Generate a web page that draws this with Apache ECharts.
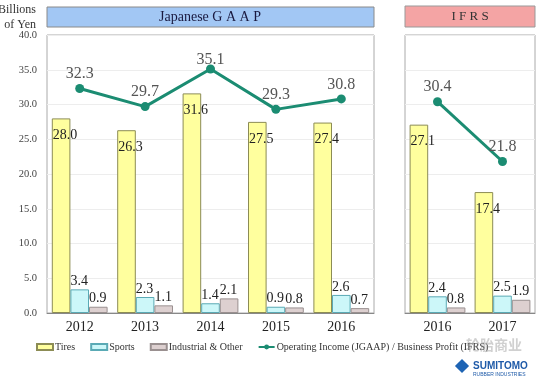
<!DOCTYPE html>
<html><head><meta charset="utf-8">
<script src="https://cdn.jsdelivr.net/npm/echarts@6/dist/echarts.min.js"></script>
<style>html,body{margin:0;padding:0;background:#fff}#c{width:544px;height:378px}</style>
</head><body><div id="c"></div>
<script>
const jgaapYears = ['2012','2013','2014','2015','2016'];
const jgaapTires = [28.0, 26.3, 31.6, 27.5, 27.4];
const jgaapSports = [3.4, 2.3, 1.4, 0.9, 2.6];
const jgaapIndustrial = [0.9, 1.1, 2.1, 0.8, 0.7];
const jgaapIncome = [32.3, 29.7, 35.1, 29.3, 30.8];
const ifrsYears = ['2016','2017'];
const ifrsTires = [27.1, 17.4];
const ifrsSports = [2.4, 2.5];
const ifrsIndustrial = [0.8, 1.9];
const ifrsProfit = [30.4, 21.8];
const lineName = 'Operating Income (JGAAP) / Business Profit (IFRS)';

const serif = '"Liberation Serif", "DejaVu Serif", serif';
const fmt = p => Number(p.value).toFixed(1);
const colors = {
  tires: {fill:'#ffff9e', border:'#8c8c55'},
  sports: {fill:'#ccf7f9', border:'#5aaab5'},
  ind: {fill:'#ddd0d0', border:'#9a9090'}
};
function bar(name, data, c, idx, tall) {
  return {
    type:'bar', name, data, xAxisIndex: idx, yAxisIndex: idx,
    barWidth: 18.6, barGap: '0%',
    itemStyle:{color:c.fill, borderColor:c.border, borderWidth:1},
    label:{show:true, formatter:fmt, fontFamily:serif, fontSize:14, color:'#222',
      align:'left', verticalAlign: tall ? 'top' : 'bottom',
      position: tall ? [1, 10] : [0, -1]},
    emphasis:{disabled:true}
  };
}
function line(data, idx) {
  // the highest point's label sits closer to its marker (just under the header)
  const maxV = Math.max(...data);
  const items = data.map(v => (idx === 0 && v === maxV) ? {value:v, label:{distance:-3}} : v);
  return {
    type:'line', name: lineName, data: items, xAxisIndex: idx, yAxisIndex: idx,
    symbol:'circle', symbolSize:9, z:5,
    lineStyle:{color:'#1b8c72', width:3}, itemStyle:{color:'#1b8c72'},
    label:{show:true, position:'top', distance:2, formatter:fmt, fontFamily:serif, fontSize:16, color:'#555'},
    emphasis:{disabled:true}
  };
}
const yAx = (idx, showLabel) => ({
  type:'value', gridIndex: idx, min:0, max:40, interval:5,
  axisLine:{show:false}, axisTick:{show:false},
  axisLabel:{show:showLabel, formatter:v=>v.toFixed(1), fontFamily:serif, fontSize:10.5, color:'#444', margin:10},
  splitLine:{lineStyle:{color:'#ededed'}}
});
const xAx = (idx, data) => ({
  type:'category', gridIndex: idx, data,
  axisLine:{lineStyle:{color:'#888'}}, axisTick:{show:false},
  axisLabel:{fontFamily:serif, fontSize:14, color:'#222', margin:7}
});
const chart = echarts.init(document.getElementById('c'));
chart.setOption({
  animation:false,
  grid:[
    {left:47, right:170, top:35, bottom:65, show:true, borderColor:'#aaa', borderWidth:1},
    {left:405, right:9, top:35, bottom:65, show:true, borderColor:'#aaa', borderWidth:1}
  ],
  xAxis:[xAx(0, jgaapYears), xAx(1, ifrsYears)],
  yAxis:[yAx(0, true), yAx(1, false)],
  legend:{
    left:36, top:342, width:520, itemWidth:16, itemHeight:6, itemGap:15, padding:0,
    textStyle:{fontFamily:serif, fontSize:10, color:'#333', padding:[0,0,0,-3]},
    data:[
      {name:'Tires', icon:'rect'},
      {name:'Sports', icon:'rect'},
      {name:'Industrial & Other', icon:'rect'},
      {name:lineName}
    ]
  },
  graphic:[
    {type:'text', x:36, y:2, style:{text:'Billions\nof Yen', font:'12px '+serif, fill:'#333', align:'right', lineHeight:15}},
    {type:'rect', shape:{x:47, y:7, width:327, height:20}, style:{fill:'#a2c7f4', stroke:'#8a8a8a', lineWidth:1}},
    {type:'text', x:210, y:17, style:{text:'Japanese G A A P', font:'14px '+serif, fill:'#1a1a40', align:'center', verticalAlign:'middle'}},
    {type:'rect', shape:{x:405, y:6, width:130, height:21}, style:{fill:'#f4a4a4', stroke:'#999', lineWidth:1}},
    {type:'text', x:470, y:16.5, style:{text:'I F R S', font:'13px '+serif, fill:'#333', align:'center', verticalAlign:'middle'}},
    {type:'text', x:466, y:338, z:10, style:{text:'轮胎商业', font:'bold 14px "Noto Sans CJK SC"', fill:'rgba(150,150,150,0.45)'}},
    {type:'rect', shape:{x:457, y:361, width:10, height:10}, rotation:Math.PI/4, originX:462, originY:366, style:{fill:'#1e64b4'}},
    {type:'text', x:473, y:361, style:{text:'SUMITOMO', font:'bold 10px "Liberation Sans", sans-serif', fill:'#1e5aa8'}},
    {type:'text', x:473, y:372, style:{text:'RUBBER INDUSTRIES', font:'5px "Liberation Sans", sans-serif', fill:'#1e5aa8'}}
  ],
  series:[
    bar('Tires', jgaapTires, colors.tires, 0, true),
    bar('Sports', jgaapSports, colors.sports, 0, false),
    bar('Industrial & Other', jgaapIndustrial, colors.ind, 0, false),
    line(jgaapIncome, 0),
    bar('Tires', ifrsTires, colors.tires, 1, true),
    bar('Sports', ifrsSports, colors.sports, 1, false),
    bar('Industrial & Other', ifrsIndustrial, colors.ind, 1, false),
    line(ifrsProfit, 1)
  ]
});
</script></body></html>
